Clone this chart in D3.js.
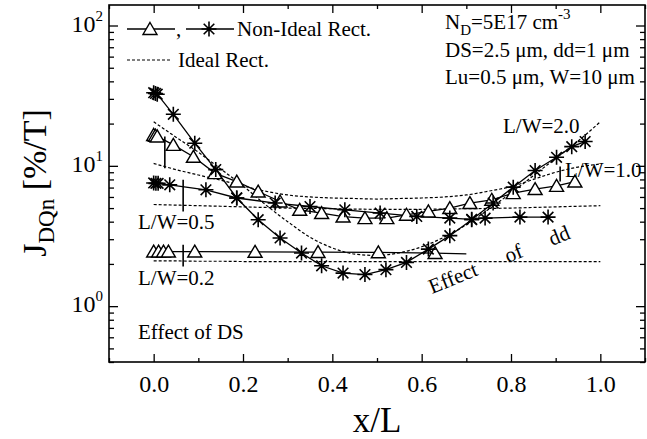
<!DOCTYPE html>
<html>
<head>
<meta charset="UTF-8">
<title>JDQn vs x/L</title>
<style>
  body { margin: 0; background: #fff; }
  svg { display: block; font-family: "Liberation Serif", serif; }
  .domain { display: none; }
</style>
</head>
<body>
<svg id="chart" width="647" height="439"></svg>
<script src="https://cdn.jsdelivr.net/npm/d3@7/dist/d3.min.js"></script>
<script>
// ---- data ----
const xTicks = [0, 0.2, 0.4, 0.6, 0.8, 1.0];
const xMinor = [-0.1, 0.1, 0.3, 0.5, 0.7, 0.9, 1.1];
const yTicks = [1, 10, 100];

// ideal rectangle (dotted), x = 0 .. 1 step 0.05
const idealX = [0, 0.05, 0.1, 0.15, 0.2, 0.25, 0.3, 0.35, 0.4, 0.45, 0.5,
                0.55, 0.6, 0.65, 0.7, 0.75, 0.8, 0.85, 0.9, 0.95, 1.0];
const idealLW20 = [20.6, 16, 12.5, 9.5, 7.2, 5.3, 4.0, 3.1, 2.6, 2.35, 2.3,
                   2.4, 2.65, 3.1, 3.8, 4.9, 6.4, 8.5, 11.3, 15, 20.6];
const idealLW10 = [10.4, 9.4, 8.6, 7.9, 7.2, 6.6, 6.2, 6.0, 5.9, 5.85, 5.8,
                   5.85, 5.9, 6.0, 6.2, 6.6, 7.1, 8.0, 9.0, 9.8, 10.3];
const idealLW05 = [5.3, 5.25, 5.2, 5.15, 5.1, 5.05, 5.0, 4.97, 4.95, 4.92, 4.9,
                   4.9, 4.9, 4.92, 4.95, 4.97, 5.0, 5.05, 5.1, 5.15, 5.2];
const idealLW02 = [2.1, 2.1, 2.09, 2.09, 2.08, 2.08, 2.08, 2.08, 2.08, 2.08, 2.08,
                   2.08, 2.08, 2.08, 2.08, 2.08, 2.08, 2.08, 2.08, 2.08, 2.08];

// non-ideal rectangle, star markers
const starLW20 = [[0, 33.2], [0.004, 32.8], [0.008, 32.4], [0.044, 23.3], [0.092, 14.5],
  [0.139, 9.4], [0.186, 5.9], [0.234, 4.13], [0.283, 3.06], [0.331, 2.39], [0.376, 1.94],
  [0.424, 1.72], [0.473, 1.68], [0.52, 1.82], [0.566, 2.05], [0.615, 2.55], [0.663, 3.18],
  [0.712, 4.13], [0.76, 5.43], [0.805, 7.05], [0.854, 9.26], [0.902, 11.5], [0.936, 13.7],
  [0.966, 14.9]];
const starLW05 = [[0, 7.55], [0.005, 7.5], [0.01, 7.5], [0.036, 7.32], [0.117, 6.75],
  [0.186, 5.9], [0.272, 5.43], [0.35, 5.13], [0.428, 4.86], [0.507, 4.61], [0.589, 4.36],
  [0.663, 4.24], [0.712, 4.16], [0.742, 4.24], [0.82, 4.31], [0.883, 4.31]];

// non-ideal rectangle, triangle markers
const triLW10 = [[0, 16.6], [0.004, 16.4], [0.008, 16.2], [0.044, 14.1], [0.089, 11.6],
  [0.137, 8.87], [0.186, 7.73], [0.234, 6.56], [0.283, 5.57], [0.327, 4.86], [0.376, 4.61],
  [0.424, 4.35], [0.473, 4.24], [0.522, 4.24], [0.566, 4.48], [0.615, 4.73], [0.663, 5.0],
  [0.708, 5.43], [0.757, 5.73], [0.805, 6.39], [0.854, 6.83], [0.902, 7.2], [0.943, 7.73]];
const triLW02 = [[0, 2.45], [0.011, 2.45], [0.022, 2.45], [0.033, 2.45], [0.092, 2.45],
  [0.227, 2.44], [0.368, 2.43], [0.503, 2.42], [0.63, 2.39]];
const triLW02End = [0.70, 2.36];

// short vertical marks: [x, yTop, yBottom]
const marks = [[0.025, 16.2, 9.6], [0.066, 7.95, 4.72], [0.066, 2.74, 1.92], [0.91, 9.9, 7.73]];

// ---- layout ----
const svg = d3.select("#chart");
const mLeft = 109, mRight = 645, mTop = 5, mBottom = 362;

const x = d3.scaleLinear().domain([-0.1, 1.1]).range([mLeft, mRight]);
const y = d3.scaleLog().domain([0.4, 140]).range([mBottom, mTop]);

const yMinor = [];
[0.1, 1, 10, 100].forEach(d => {
  for (let k = 2; k <= 9; k++) {
    const v = d * k;
    if (v >= 0.4 && v <= 140) yMinor.push(v);
  }
});

// axes, ticks inward on all four sides
function addAxis(axis, tr) {
  const g = svg.append("g").attr("transform", tr).call(axis);
  g.selectAll("line").attr("stroke", "#000").attr("stroke-width", 1.3);
  return g;
}
addAxis(d3.axisBottom(x).tickValues(xTicks).tickSize(-8).tickFormat(d3.format(".1f")),
        `translate(0,${mBottom})`)
  .selectAll("text").attr("font-size", 24).attr("dy", "1.12em").attr("fill", "#000")
  .attr("font-family", "Liberation Serif");
addAxis(d3.axisBottom(x).tickValues(xMinor).tickSize(-4).tickFormat(""), `translate(0,${mBottom})`);
addAxis(d3.axisTop(x).tickValues(xTicks).tickSize(-8).tickFormat(""), `translate(0,${mTop})`);
addAxis(d3.axisTop(x).tickValues(xMinor).tickSize(-4).tickFormat(""), `translate(0,${mTop})`);
addAxis(d3.axisLeft(y).tickValues(yTicks).tickSize(-9).tickFormat(""), `translate(${mLeft},0)`);
addAxis(d3.axisLeft(y).tickValues(yMinor).tickSize(-5).tickFormat(""), `translate(${mLeft},0)`);
addAxis(d3.axisRight(y).tickValues(yTicks).tickSize(-9).tickFormat(""), `translate(${mRight},0)`);
addAxis(d3.axisRight(y).tickValues(yMinor).tickSize(-5).tickFormat(""), `translate(${mRight},0)`);

svg.append("rect")
  .attr("x", mLeft).attr("y", mTop)
  .attr("width", mRight - mLeft).attr("height", mBottom - mTop)
  .attr("fill", "none").attr("stroke", "#000").attr("stroke-width", 1.6);

// y tick labels 10^n
yTicks.forEach(v => {
  const t = svg.append("text")
    .attr("x", mLeft - 6).attr("y", y(v) + 6)
    .attr("text-anchor", "end").attr("font-size", 24);
  t.append("tspan").text("10");
  t.append("tspan").attr("dy", -11).attr("font-size", 15).text(Math.round(Math.log10(v)));
});

// axis titles
svg.append("text")
  .attr("x", 377).attr("y", 432)
  .attr("text-anchor", "middle").attr("font-size", 35)
  .text("x/L");

const yt = svg.append("text")
  .attr("transform", "translate(46,183) rotate(-90)")
  .attr("text-anchor", "middle").attr("font-size", 34);
yt.append("tspan").text("J");
yt.append("tspan").attr("dy", 8).attr("font-size", 23).text("DQn");
yt.append("tspan").attr("dy", -8).text(" [%/T]");

// ---- curves ----
const dashLine = d3.line().x((d, i) => x(idealX[i])).y(d => y(d)).curve(d3.curveMonotoneX);
[idealLW20, idealLW10, idealLW05, idealLW02].forEach(arr => {
  svg.append("path").attr("d", dashLine(arr))
    .attr("fill", "none").attr("stroke", "#000")
    .attr("stroke-width", 1.2).attr("stroke-dasharray", "3,2");
});

const solid = d3.line().x(d => x(d[0])).y(d => y(d[1]));
[starLW20, starLW05, triLW10, triLW02.concat([triLW02End])].forEach(arr => {
  svg.append("path").attr("d", solid(arr))
    .attr("fill", "none").attr("stroke", "#000").attr("stroke-width", 1.3);
});

const triPath = "M0,-6.5L7,5.5L-7,5.5Z";
function triangles(arr) {
  svg.append("g").selectAll("path").data(arr).join("path")
    .attr("d", triPath)
    .attr("transform", d => `translate(${x(d[0])},${y(d[1])})`)
    .attr("fill", "#fff").attr("stroke", "#000").attr("stroke-width", 1.4);
}
const starPath = "M0,-7.5L0,7.5M-7.5,0L7.5,0M-5.3,-5.3L5.3,5.3M-5.3,5.3L5.3,-5.3";
function stars(arr) {
  svg.append("g").selectAll("path").data(arr).join("path")
    .attr("d", starPath)
    .attr("transform", d => `translate(${x(d[0])},${y(d[1])})`)
    .attr("fill", "none").attr("stroke", "#000").attr("stroke-width", 1.6);
}
triangles(triLW10);
triangles(triLW02);
stars(starLW20);
stars(starLW05);

// vertical marks
svg.append("g").selectAll("line").data(marks).join("line")
  .attr("x1", d => x(d[0])).attr("x2", d => x(d[0]))
  .attr("y1", d => y(d[1])).attr("y2", d => y(d[2]))
  .attr("stroke", "#000").attr("stroke-width", 1.6);

// ---- legend ----
const lg = svg.append("g").attr("font-size", 21);
lg.append("line").attr("x1", 127).attr("x2", 175).attr("y1", 29).attr("y2", 29)
  .attr("stroke", "#000").attr("stroke-width", 1.3);
lg.append("path").attr("d", triPath).attr("transform", "translate(150,29)")
  .attr("fill", "#fff").attr("stroke", "#000").attr("stroke-width", 1.4);
lg.append("text").attr("x", 176).attr("y", 36).text(",");
lg.append("line").attr("x1", 186).attr("x2", 234).attr("y1", 29).attr("y2", 29)
  .attr("stroke", "#000").attr("stroke-width", 1.3);
lg.append("path").attr("d", starPath).attr("transform", "translate(209,29)")
  .attr("fill", "none").attr("stroke", "#000").attr("stroke-width", 1.6);
lg.append("text").attr("x", 237).attr("y", 36).text("Non-Ideal Rect.");
lg.append("line").attr("x1", 127).attr("x2", 172).attr("y1", 60).attr("y2", 60)
  .attr("stroke", "#000").attr("stroke-width", 1.2).attr("stroke-dasharray", "3,2");
lg.append("text").attr("x", 178).attr("y", 67).text("Ideal Rect.");

// ---- annotations ----
const ann = svg.append("g").attr("font-size", 21);
const nd = ann.append("text").attr("x", 445).attr("y", 29);
nd.append("tspan").text("N");
nd.append("tspan").attr("dy", 6).attr("font-size", 15).text("D");
nd.append("tspan").attr("dy", -6).text("=5E17 cm");
nd.append("tspan").attr("dy", -10).attr("font-size", 15).text("-3");
ann.append("text").attr("x", 445).attr("y", 57).text("DS=2.5 \u03bcm, dd=1 \u03bcm");
ann.append("text").attr("x", 445).attr("y", 84).text("Lu=0.5 \u03bcm, W=10 \u03bcm");

ann.append("text").attr("x", 503).attr("y", 133).text("L/W=2.0");
ann.append("text").attr("x", 565).attr("y", 177).text("L/W=1.0");
ann.append("text").attr("x", 138).attr("y", 229).text("L/W=0.5");
ann.append("text").attr("x", 138).attr("y", 285).text("L/W=0.2");
ann.append("text").attr("x", 138).attr("y", 339).text("Effect of DS");

[["Effect", 432, 294], ["of", 508, 263], ["dd", 552, 246]].forEach(d => {
  ann.append("text")
    .attr("transform", `translate(${d[1]},${d[2]}) rotate(-22)`)
    .text(d[0]);
});
</script>
</body>
</html>
